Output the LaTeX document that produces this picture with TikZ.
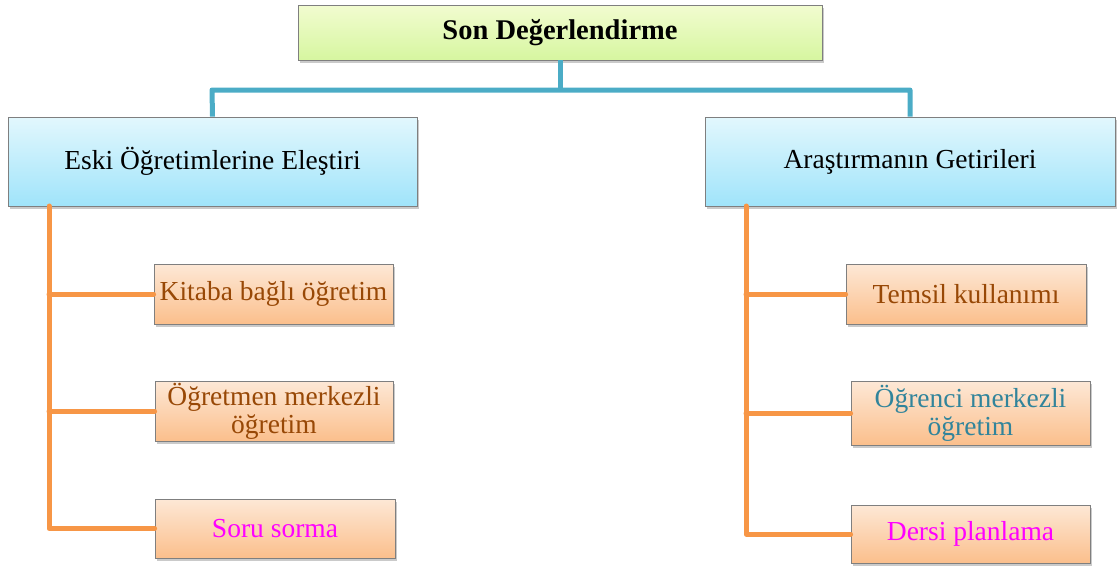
\documentclass[tikz,border=0pt]{standalone}
\usepackage{fontspec}
\setmainfont{Liberation Serif}
\usetikzlibrary{shadows}
\definecolor{linkblue}{HTML}{4BACC6}
\definecolor{linkorange}{HTML}{F79646}
\definecolor{txtbrown}{HTML}{984806}
\definecolor{txtteal}{HTML}{31849B}
\definecolor{txtpink}{HTML}{FF00FF}
\definecolor{boxedge}{HTML}{7F7F7F}
\begin{document}
\begin{tikzpicture}[x=1pt,y=-1pt,
  basebox/.style={draw=boxedge,line width=0.8pt,inner sep=0pt,align=center,
    drop shadow={shadow xshift=2pt,shadow yshift=-3pt,opacity=0.35,fill=black!60}},
  topbox/.style={basebox,top color={rgb,255:red,242;green,252;blue,208},
    bottom color={rgb,255:red,214;green,246;blue,160},font=\fontsize{28.5}{30}\selectfont\bfseries},
  midbox/.style={basebox,top color={rgb,255:red,226;green,247;blue,253},
    bottom color={rgb,255:red,160;green,228;blue,250},font=\fontsize{27.5}{28}\selectfont},
  leafbox/.style={basebox,top color={rgb,255:red,253;green,232;blue,214},
    bottom color={rgb,255:red,251;green,191;blue,140},font=\fontsize{27.5}{28}\selectfont},
  bluelink/.style={draw=linkblue,line width=5pt,line join=round},
  orangelink/.style={draw=linkorange,line width=5pt,line join=round,line cap=round}]
\useasboundingbox (0,0) rectangle (1118,570);

% boxes
\node[topbox,minimum width=524pt,minimum height=55pt] (root) at (560,32.5) {Son Değerlendirme};
\node[midbox,minimum width=409pt,minimum height=89pt] (left) at (212.5,161.5) {Eski Öğretimlerine Eleştiri};
\node[midbox,minimum width=410pt,minimum height=89pt] (right) at (910,161.5) {Araştırmanın Getirileri};

\node[leafbox,minimum width=239pt,minimum height=60pt,text=txtbrown] (l1) at (273.5,294) {Kitaba bağlı öğretim};
\node[leafbox,minimum width=238pt,minimum height=60pt,text=txtbrown] (l2) at (274,411) {Öğretmen merkezli\\öğretim};
\node[leafbox,minimum width=240pt,minimum height=59pt,text=txtpink] (l3) at (275,528.5) {Soru sorma};

\node[leafbox,minimum width=240pt,minimum height=60pt,text=txtbrown] (r1) at (966,294) {Temsil kullanımı};
\node[leafbox,minimum width=239pt,minimum height=64pt,text=txtteal] (r2) at (970.5,413) {Öğrenci merkezli\\öğretim};
\node[leafbox,minimum width=239pt,minimum height=58pt,text=txtpink] (r3) at (970.5,534) {Dersi planlama};

% blue links from the root
\coordinate (hubL) at (212,90);
\coordinate (hubR) at (910,90);
\draw[bluelink] (left.north) -- (hubL) -- (hubR) -- (right.north);
\draw[bluelink] (root.south) -- (root.south |- hubL);

% orange links to the leaves
\coordinate (lt) at (49,206);
\coordinate (rt) at (746,206);
\draw[orangelink] (lt) -- (lt |- l3.west) -- (l3.west);
\draw[orangelink] (lt |- l1.west) -- (l1.west);
\draw[orangelink] (lt |- l2.west) -- (l2.west);
\draw[orangelink] (rt) -- (rt |- r3.west) -- (r3.west);
\draw[orangelink] (rt |- r1.west) -- (r1.west);
\draw[orangelink] (rt |- r2.west) -- (r2.west);
\end{tikzpicture}
\end{document}
